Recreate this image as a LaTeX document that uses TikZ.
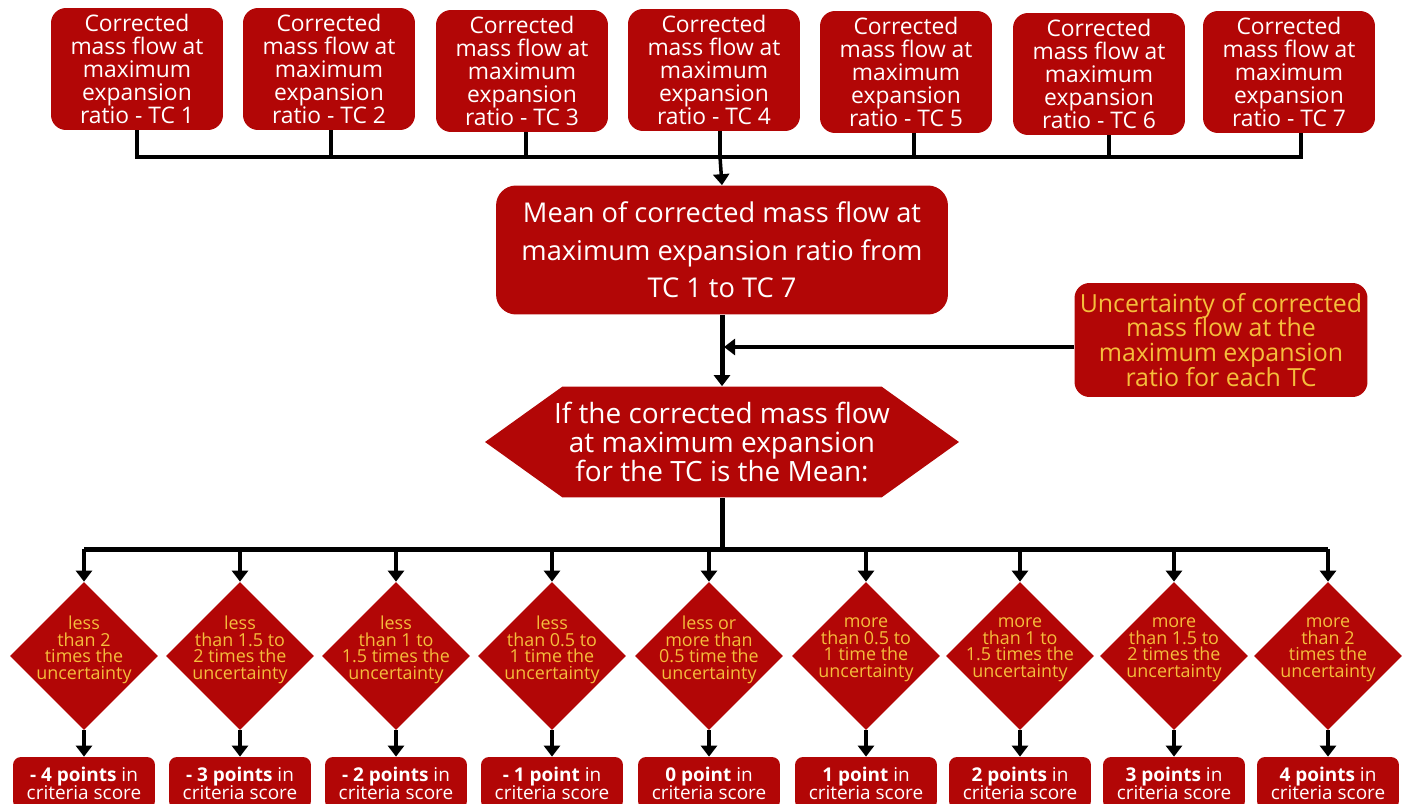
\documentclass[tikz,border=0pt]{standalone}
\usepackage{fontspec}
\setmainfont{Open Sans}
\usetikzlibrary{shapes.geometric}
\usetikzlibrary{arrows.meta}
\usetikzlibrary{positioning}
\definecolor{boxred}{RGB}{178,6,6}
\definecolor{txtyellow}{RGB}{245,190,60}
\setlength{\lineskiplimit}{-100pt}

\begin{document}
\begin{tikzpicture}[x=0.02cm,y=-0.02cm,
  conn/.style={line width=0.07cm},
  bigconn/.style={line width=0.1cm},
  flowarrow/.style={-{Triangle[width=0.32cm,length=0.22cm]}},
  redbox/.style={fill=boxred,align=center,inner sep=0pt},
  tcbox/.style={redbox,text=white,rounded corners=0.3cm,minimum width=3.44cm,minimum height=2.44cm,font=\fontsize{13}{13.2}\selectfont},
  meanbox/.style={redbox,text=white,rounded corners=0.4cm,minimum width=9.04cm,minimum height=2.58cm,font=\fontsize{15.5}{21.3}\selectfont},
  uncbox/.style={redbox,text=txtyellow,rounded corners=0.3cm,minimum width=5.86cm,minimum height=2.28cm,font=\fontsize{14.2}{14.2}\selectfont},
  hexbox/.style={fill=white,align=center,inner sep=0pt,text=white,minimum width=9.48cm,minimum height=2.22cm,font=\fontsize{15.9}{16.4}\selectfont,
    path picture={\fill[boxred] (path picture bounding box.west)
      -- ([xshift=1.55cm]path picture bounding box.north west)
      -- ([xshift=-1.55cm]path picture bounding box.north east)
      -- (path picture bounding box.east)
      -- ([xshift=-1.55cm]path picture bounding box.south east)
      -- ([xshift=1.55cm]path picture bounding box.south west) -- cycle;}},
  diabox/.style={diamond,aspect=1,fill=boxred,text=txtyellow,align=center,inner sep=-0.2cm,minimum width=2.96cm,minimum height=2.96cm,font=\fontsize{10.2}{9.4}\selectfont},
  scorebox/.style={redbox,text=white,rounded corners=0.16cm,minimum width=2.84cm,minimum height=1.04cm,font=\fontsize{10.8}{10.2}\selectfont}]

\useasboundingbox (0,0) rectangle (1411,804);

\foreach \i/\x/\y in {1/137/69,2/329/69,3/522/71,4/714/70,5/906/72,6/1099/74,7/1289/72}
  \node[tcbox] (tc\i) at (\x,\y) {Corrected\\mass flow at\\maximum\\expansion\\ratio - TC \i};

\node[meanbox] (mean) at (722,250) {Mean of corrected mass flow at\\maximum expansion ratio from\\TC 1 to TC 7};
\node[uncbox] (unc) at (1221,340) {Uncertainty of corrected\\mass flow at the\\maximum expansion\\ratio for each TC};
\node[hexbox] (cond) at (722,442) {If the corrected mass flow\\at maximum expansion\\for the TC is the Mean:};

\coordinate (topbus) at (720,157);
\coordinate (botbus) at (722,549);

\draw[conn] (tc1.south) |- ([xshift=0.24cm]tc7.south |- topbus) -- ([xshift=0.24cm]tc7.south);
\foreach \i in {2,...,6}
  \draw[conn] ([xshift=\i*0.04cm-0.04cm]tc\i.south) -- ([xshift=\i*0.04cm-0.04cm]tc\i.south |- topbus);
\draw[conn,flowarrow] (topbus) -- (mean.north);
\draw[bigconn,flowarrow] (mean.south) -- (cond.north);
\draw[conn,flowarrow,shorten >=0.04cm] ([yshift=-0.14cm]unc.west) -- ([yshift=-0.14cm]unc.west -| mean.south);

\foreach \i/\x/\t/\s in {
  1/84/{less\\than 2\\times the\\uncertainty}/{\textbf{- 4 points} in},
  2/240/{less\\than 1.5 to\\2 times the\\uncertainty}/{\textbf{- 3 points} in},
  3/396/{less\\than 1 to\\1.5 times the\\uncertainty}/{\textbf{- 2 points} in},
  4/552/{less\\than 0.5 to\\1 time the\\uncertainty}/{\textbf{- 1 point} in},
  5/709/{less or\\more than\\0.5 time the\\uncertainty}/{\textbf{0 point} in},
  6/866/{more\\than 0.5 to\\1 time the\\uncertainty}/{\textbf{1 point} in},
  7/1020/{more\\than 1 to\\1.5 times the\\uncertainty}/{\textbf{2 points} in},
  8/1174/{more\\than 1.5 to\\2 times the\\uncertainty}/{\textbf{3 points} in},
  9/1328/{more\\than 2\\times the\\uncertainty}/{\textbf{4 points} in}}{
  \node[diabox] (d\i) at (\x,656) {\t\\};
  \node[scorebox] (s\i) at (\x,783) {\s\\criteria score};
  \draw[conn,flowarrow] (d\i.north |- botbus) -- (d\i.north);
  \draw[conn,flowarrow] (d\i.south) -- (s\i.north);
}

\draw[bigconn] (cond.south) -- (botbus);
\draw[bigconn] (d1.north |- botbus) -- (d9.north |- botbus);
\end{tikzpicture}
\end{document}
